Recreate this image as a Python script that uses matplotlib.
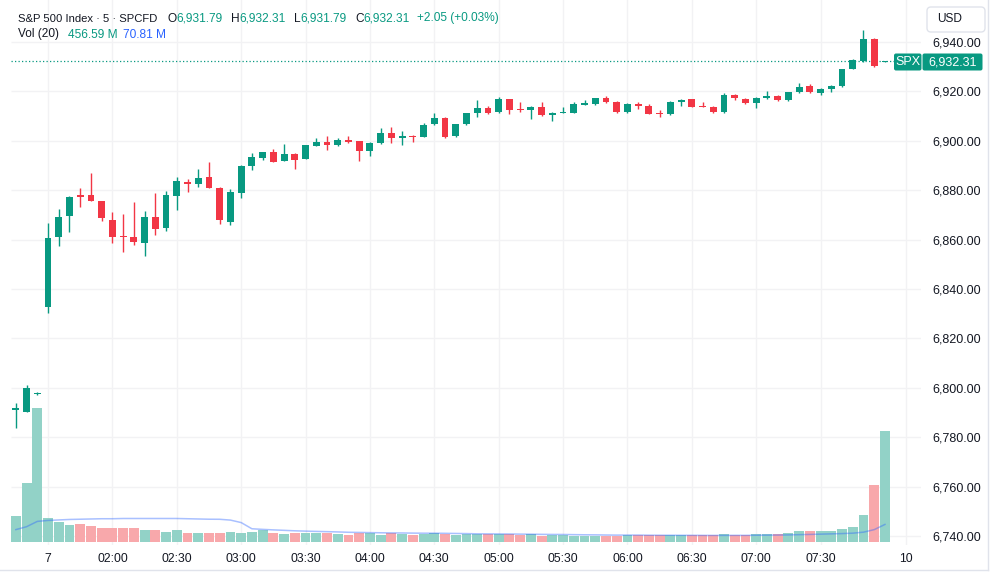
import numpy as np
import pandas as pd
import matplotlib
matplotlib.use("Agg")
import matplotlib.pyplot as plt
from matplotlib.patches import FancyBboxPatch
from matplotlib.transforms import blended_transform_factory

plt.rcParams["font.family"] = ["Liberation Sans", "DejaVu Sans"]

GREEN = "#089981"
RED = "#F23645"
VOL_GREEN = "#92d2c7"
VOL_RED = "#f8a8ab"
TEXT = "#131722"
GRID = "#f2f2f4"

# 5 min bars, index 0 = first bar of the 7th (01:30)
bar_idx = np.arange(-3, 79)
opens = [6790.9, 6790.3, 6797.5, 6832.8, 6861.2, 6869.7, 6877.9, 6878.2, 6875.6, 6867.9,
         6861.5, 6861.1, 6858.7, 6869.3, 6864.7, 6877.8, 6883.4, 6882.4, 6885.2, 6881.0,
         6867.2, 6879.0, 6889.8, 6893.2, 6895.3, 6891.9, 6894.8, 6892.8, 6898.0, 6899.5,
         6898.3, 6900.2, 6899.8, 6896.0, 6899.2, 6903.3, 6901.1, 6902.0, 6901.7, 6906.7,
         6909.4, 6902.1, 6906.7, 6911.1, 6913.3, 6911.5, 6916.9, 6912.6, 6912.3, 6913.6,
         6910.6, 6911.3, 6911.4, 6914.6, 6914.9, 6917.2, 6915.8, 6911.5, 6914.9, 6914.2,
         6911.2, 6910.7, 6915.6, 6916.8, 6913.9, 6913.8, 6911.5, 6918.5, 6917.1, 6915.2,
         6917.3, 6918.0, 6916.4, 6919.6, 6922.2, 6919.5, 6921.0, 6922.1, 6929.1, 6932.3,
         6941.3, 6931.79]
highs = [6794.0, 6801.1, 6798.2, 6866.8, 6872.3, 6877.7, 6880.8, 6886.8, 6875.8, 6871.1,
         6870.2, 6875.3, 6871.6, 6879.0, 6879.8, 6885.5, 6884.5, 6888.6, 6891.5, 6881.2,
         6880.4, 6890.3, 6894.9, 6895.5, 6896.7, 6898.7, 6895.0, 6898.5, 6901.1, 6901.9,
         6901.1, 6901.9, 6900.0, 6899.5, 6905.1, 6905.7, 6904.1, 6902.2, 6907.1, 6911.4,
         6909.6, 6907.0, 6911.3, 6916.5, 6914.2, 6917.6, 6917.1, 6915.6, 6914.1, 6915.6,
         6911.5, 6913.8, 6915.7, 6916.5, 6917.5, 6918.1, 6916.0, 6915.3, 6915.8, 6914.9,
         6912.5, 6916.2, 6916.8, 6917.0, 6915.6, 6914.0, 6919.2, 6918.8, 6917.4, 6917.6,
         6920.2, 6918.4, 6919.9, 6923.5, 6922.9, 6921.3, 6922.4, 6929.1, 6933.1, 6944.9,
         6941.5, 6932.31]
lows = [6783.6, 6790.1, 6797.3, 6830.2, 6857.4, 6863.2, 6873.3, 6875.5, 6867.5, 6858.7,
        6855.1, 6857.8, 6853.4, 6861.7, 6863.6, 6872.0, 6879.4, 6881.4, 6880.8, 6866.2,
        6865.8, 6877.0, 6888.2, 6892.2, 6891.3, 6891.7, 6888.5, 6892.5, 6897.8, 6896.3,
        6898.0, 6899.0, 6891.9, 6894.0, 6898.9, 6899.2, 6898.3, 6899.6, 6901.5, 6906.5,
        6901.0, 6901.7, 6906.5, 6909.8, 6911.0, 6911.3, 6910.9, 6911.8, 6908.7, 6910.2,
        6908.1, 6911.2, 6911.2, 6914.4, 6914.7, 6915.5, 6911.3, 6911.3, 6912.8, 6910.8,
        6909.5, 6910.5, 6914.2, 6913.6, 6913.5, 6911.3, 6911.3, 6916.5, 6915.0, 6913.2,
        6917.1, 6916.3, 6916.2, 6919.4, 6919.4, 6918.5, 6919.9, 6921.9, 6928.9, 6932.1,
        6929.7, 6931.79]
closes = [6791.9, 6799.8, 6798.0, 6860.8, 6869.0, 6877.4, 6877.1, 6875.7, 6868.6, 6860.9,
          6861.2, 6859.0, 6869.3, 6864.4, 6877.9, 6883.6, 6882.4, 6884.9, 6881.0, 6867.8,
          6879.1, 6889.8, 6893.3, 6895.3, 6891.5, 6894.8, 6892.2, 6898.2, 6899.5, 6898.3,
          6900.3, 6899.5, 6896.0, 6899.2, 6903.0, 6901.0, 6901.9, 6901.4, 6906.4, 6909.1,
          6901.7, 6906.7, 6911.1, 6913.2, 6911.1, 6916.9, 6912.5, 6912.4, 6913.6, 6910.4,
          6911.3, 6911.4, 6914.8, 6915.2, 6917.2, 6915.7, 6911.5, 6914.9, 6914.2, 6911.0,
          6911.0, 6915.7, 6916.5, 6913.8, 6913.7, 6911.5, 6918.5, 6917.2, 6915.2, 6917.4,
          6918.0, 6916.5, 6919.6, 6921.9, 6919.6, 6921.0, 6922.1, 6928.9, 6932.7, 6941.1,
          6930.26, 6932.31]
# volume in millions
volume_m = [108, 243, 553, 98, 80, 70, 75, 63, 58, 58,
            55, 58, 50, 50, 41, 47, 37, 37, 37, 37,
            41, 37, 41, 48, 37, 33, 36, 36, 36, 36,
            33, 29, 37, 34, 29, 36, 31, 26, 30, 37,
            30, 26, 30, 30, 30, 30, 30, 26, 30, 23,
            26, 26, 23, 23, 23, 23, 23, 29, 29, 26,
            26, 26, 26, 29, 26, 26, 33, 29, 29, 33,
            33, 33, 36, 43, 43, 46, 46, 54, 62, 109,
            236, 456.59]
# Vol MA(20) for the first bars (earlier bars are off screen)
vol_ma_head = [50, 62, 84, 88, 90, 92, 93, 94, 95, 95,
               96, 96, 96, 96, 96, 96, 95, 94, 93]
legend_vol_ma = 70.81

tick_pos = [0, 6, 12, 18, 24, 30, 36, 42, 48, 54, 60, 66, 72, 80]
tick_labels = ["7", "02:00", "02:30", "03:00", "03:30", "04:00", "04:30",
               "05:00", "05:30", "06:00", "06:30", "07:00", "07:30", "10"]
price_ticks = np.arange(6740, 6941, 20)

o = np.array(opens); h = np.array(highs); l = np.array(lows); c = np.array(closes)
up = c >= o
vol_ma = pd.Series(volume_m).rolling(20).mean().to_numpy()
vol_ma[:len(vol_ma_head)] = vol_ma_head

fig = plt.figure(figsize=(10, 5.76), dpi=100)
rect = [10.7 / 1000, 31 / 576, 910.3 / 1000, 545 / 576]
axv = fig.add_axes(rect)
axp = axv.twinx()

# volume pane
axv.bar(bar_idx, volume_m, width=0.92, color=np.where(up, VOL_GREEN, VOL_RED), linewidth=0, zorder=2)
axv.plot(bar_idx, vol_ma, color="#2962FF", alpha=0.4, lw=1.1, zorder=3)
axv.set_ylim(-13.7, 2242)
axv.set_xlim(-3.48, 81.36)
axv.set_xticks(tick_pos)
axv.set_xticklabels(tick_labels, fontsize=8.7, color=TEXT)
axv.tick_params(axis="x", length=0, pad=6)
axv.tick_params(axis="y", left=False, labelleft=False)
axv.grid(axis="x", color=GRID, lw=1, zorder=0)
trans = blended_transform_factory(axv.transAxes, axp.transData)
axv.hlines(price_ticks, 0, 1, transform=trans, color=GRID, lw=1, zorder=0)
for s in axv.spines.values():
    s.set_visible(False)

# candles
axp.vlines(bar_idx, l, h, colors=np.where(up, GREEN, RED), lw=1, zorder=3)
body = np.maximum(np.abs(c - o), 0.45)
axp.bar(bar_idx, body, bottom=np.minimum(o, c), width=0.64,
        color=np.where(up, GREEN, RED), linewidth=0, zorder=4)
axp.axhline(c[-1], color=GREEN, lw=0.9, ls=(0, (1, 1.8)), zorder=2)
axp.set_ylim(6736.4, 6957.0)
axp.set_yticks(price_ticks)
axp.set_yticklabels([f"{v:,.2f}" for v in price_ticks], fontsize=9, color=TEXT)
axp.tick_params(axis="y", length=0, pad=8)
for s in axp.spines.values():
    s.set_visible(False)

# overlay in pixel coords for legend, labels and borders
ov = fig.add_axes([0, 0, 1, 1], zorder=10)
ov.set_xlim(0, 1000)
ov.set_ylim(576, 0)
ov.axis("off")
ov.patch.set_visible(False)

ov.plot([0, 988], [570, 570], color="#e0e3eb", lw=1)
ov.plot([988, 988], [0, 570], color="#e0e3eb", lw=1)

chg = c[-1] - c[-2]
pct = chg / c[-2] * 100
ov.text(18.3, 18.5, "S&P 500 Index · 5 · SPCFD", color=TEXT, fontsize=8.1, ha="left", va="center")
row1 = [(168, "O", TEXT), (176.7, f"{o[-1]:,.2f}", GREEN),
        (231, "H", TEXT), (239.3, f"{h[-1]:,.2f}", GREEN),
        (294.3, "L", TEXT), (300.5, f"{l[-1]:,.2f}", GREEN),
        (355.7, "C", TEXT), (363.5, f"{c[-1]:,.2f}", GREEN),
        (417.3, f"{chg:+.2f} ({pct:+.2f}%)", GREEN)]
for x, s, col in row1:
    ov.text(x, 18.5, s, color=col, fontsize=8.6, ha="left", va="center")
row2 = [(18.3, "Vol (20)", TEXT),
        (68.3, f"{volume_m[-1]:.2f} M", GREEN),
        (122.7, f"{legend_vol_ma:.2f} M", "#2962FF")]
for x, s, col in row2:
    ov.text(x, 34.5, s, color=col, fontsize=8.6, ha="left", va="center")

ov.add_patch(FancyBboxPatch((927, 7), 58, 25, boxstyle="round,pad=0,rounding_size=4",
                            fc="white", ec="#e0e3eb", lw=1))
ov.text(937, 19.5, "USD", color=TEXT, fontsize=8.6, ha="left", va="center")

ov.add_patch(FancyBboxPatch((894, 53.5), 27.5, 17, boxstyle="round,pad=0,rounding_size=2",
                            fc=GREEN, ec="none"))
ov.add_patch(FancyBboxPatch((922.5, 53.5), 60, 17, boxstyle="round,pad=0,rounding_size=2",
                            fc=GREEN, ec="none"))
ov.text(908, 62.3, "SPX", color="white", fontsize=9, ha="center", va="center")
ov.text(952.5, 62.3, f"{c[-1]:,.2f}", color="white", fontsize=9, ha="center", va="center")

fig.savefig("out.png", dpi=100)
